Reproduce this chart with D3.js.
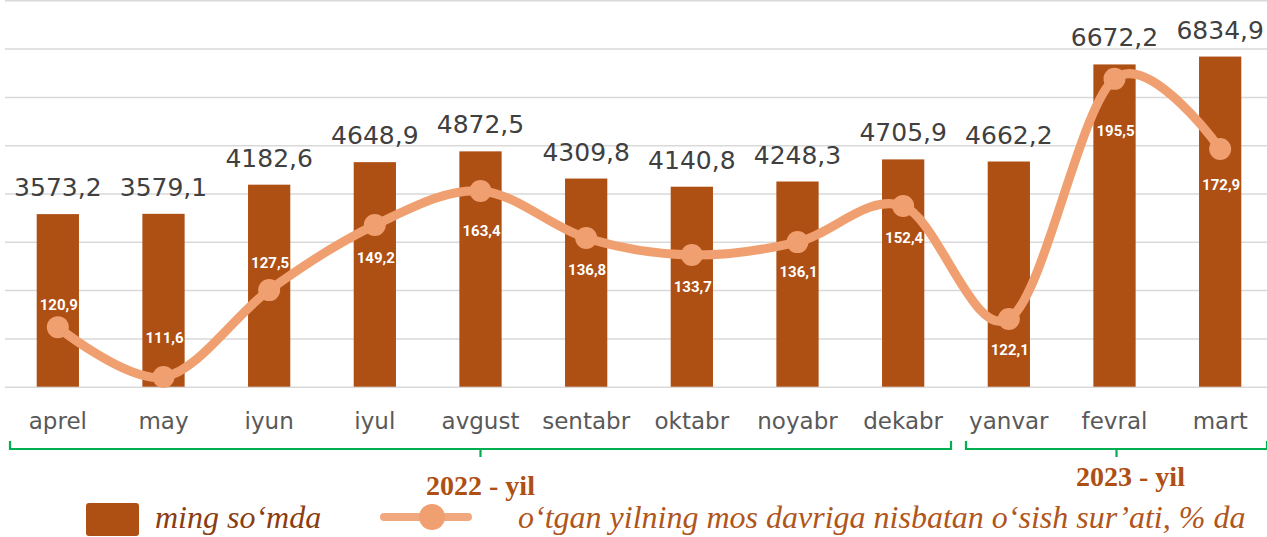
<!DOCTYPE html>
<html>
<head>
<meta charset="utf-8">
<script src="https://cdn.jsdelivr.net/npm/d3@7"></script>
<style>
    body { margin: 0; background: #fff; }
    svg { display: block; }
</style>
</head>
<body>
<div id="chart-area"></div>
<script>
// data
var months = ["aprel", "may", "iyun", "iyul", "avgust", "sentabr", "oktabr", "noyabr", "dekabr", "yanvar", "fevral", "mart"];
var amounts = [3573.2, 3579.1, 4182.6, 4648.9, 4872.5, 4309.8, 4140.8, 4248.3, 4705.9, 4662.2, 6672.2, 6834.9];
// growth rate as printed on the labels
var rateLabels = [120.9, 111.6, 127.5, 149.2, 163.4, 136.8, 133.7, 136.1, 152.4, 122.1, 195.5, 172.9];
// growth rate where the line is actually drawn (secondary axis 100..220)
var ratePlotted = [118.5, 103.0, 130.0, 150.2, 160.8, 146.2, 140.9, 144.9, 156.1, 121.0, 195.6, 173.8];
var amountTicks = [0, 1000, 2000, 3000, 4000, 5000, 6000, 7000, 8000];
var years = [
    { label: "2022 - yil", from: "aprel", to: "dekabr" },
    { label: "2023 - yil", from: "yanvar", to: "mart" }
];
var legendBar = "ming so\u2018mda";
var legendLine = "o\u2018tgan yilning mos davriga nisbatan o\u2018sish sur\u2019ati, % da";

var width = 1267, height = 537;
var barColor = "#ae4f13", lineColor = "#f0a070", green = "#00b050";

var svg = d3.select("#chart-area")
    .append("svg")
    .attr("width", width)
    .attr("height", height);

// Scales
var x = d3.scaleBand().domain(months).range([5, 1273]).padding(0);
var y = d3.scaleLinear().domain([0, 8000]).range([386.7, 0.3]);
var y2 = d3.scaleLinear().domain([100, 220]).range([386.7, 0.3]);
var barW = x.bandwidth() * 0.4;
var cx = function(m) { return x(m) + x.bandwidth() / 2; };

// Gridlines
var grid = svg.append("g")
    .attr("transform", "translate(5,0)")
    .call(d3.axisRight(y).tickValues(amountTicks).tickSize(1262).tickFormat(""));
grid.select(".domain").remove();
grid.selectAll("line").attr("stroke", "#d9d9d9").attr("stroke-width", 1.5);

// X-axis
var xAxis = svg.append("g")
    .attr("transform", "translate(0," + y(0) + ")")
    .call(d3.axisBottom(x).tickSize(0));
xAxis.select(".domain").remove();
xAxis.selectAll("text")
    .attr("y", 42)
    .attr("dy", 0)
    .attr("fill", "#595959")
    .attr("font-family", "DejaVu Sans")
    .attr("font-size", "23px");

// Bars
svg.selectAll("rect.bar")
    .data(amounts)
    .enter().append("rect")
    .attr("class", "bar")
    .attr("x", function(d, i) { return cx(months[i]) - barW / 2; })
    .attr("y", function(d) { return y(d); })
    .attr("width", barW)
    .attr("height", function(d) { return y(0) - y(d); })
    .attr("fill", barColor);

svg.selectAll("text.amount")
    .data(amounts)
    .enter().append("text")
    .attr("class", "amount")
    .attr("x", function(d, i) { return cx(months[i]); })
    .attr("y", function(d) { return y(d) - 18; })
    .attr("text-anchor", "middle")
    .attr("font-family", "DejaVu Sans")
    .attr("font-size", "25px")
    .attr("fill", "#404040")
    .text(function(d) { return d3.format(".1f")(d).replace(".", ","); });

// Line
var line = d3.line()
    .x(function(d, i) { return cx(months[i]); })
    .y(function(d) { return y2(d); })
    .curve(d3.curveCatmullRom.alpha(0));

svg.append("path")
    .attr("d", line(ratePlotted))
    .attr("fill", "none")
    .attr("stroke", lineColor)
    .attr("stroke-width", 9)
    .attr("stroke-linecap", "round");

svg.selectAll("circle.rate")
    .data(ratePlotted)
    .enter().append("circle")
    .attr("class", "rate")
    .attr("cx", function(d, i) { return cx(months[i]); })
    .attr("cy", function(d) { return y2(d); })
    .attr("r", 11)
    .attr("fill", lineColor);

// label offsets from the marker (layout only)
var labelDy = [-22, -39, -27, 33, 40, 32, 32, 30, 32, 31, 52, 36];
svg.selectAll("text.rate")
    .data(rateLabels)
    .enter().append("text")
    .attr("class", "rate")
    .attr("x", function(d, i) { return cx(months[i]) + 1; })
    .attr("y", function(d, i) { return y2(ratePlotted[i]) + labelDy[i]; })
    .attr("dy", "0.35em")
    .attr("text-anchor", "middle")
    .attr("font-family", "Roboto")
    .attr("font-weight", "bold")
    .attr("font-size", "15px")
    .attr("fill", "#ffffff")
    .text(function(d) { return d3.format(".1f")(d).replace(".", ","); });

// Year brackets
years.forEach(function(yr, i) {
    var x0 = x(yr.from) + (i == 0 ? 5 : 10),
        x1 = Math.min(x(yr.to) + x.bandwidth() - 5, width),
        mid = (x0 + x1) / 2;
    var p = d3.path();
    p.moveTo(x0, 441); p.lineTo(x0, 449); p.lineTo(x1, 449); p.lineTo(x1, 441);
    p.moveTo(mid, 449); p.lineTo(mid, 457);
    svg.append("path")
        .attr("d", p.toString())
        .attr("fill", "none")
        .attr("stroke", green)
        .attr("stroke-width", 2.2);
    svg.append("text")
        .attr("x", mid + (i == 0 ? 0 : 14))
        .attr("y", i == 0 ? 495 : 486)
        .attr("text-anchor", "middle")
        .attr("font-family", "Liberation Serif")
        .attr("font-weight", "bold")
        .attr("font-size", "28px")
        .attr("fill", barColor)
        .text(yr.label);
});

// Legend
svg.append("rect")
    .attr("x", 86).attr("y", 503)
    .attr("width", 53).attr("height", 33)
    .attr("rx", 3)
    .attr("fill", barColor);
svg.append("text")
    .attr("x", 155).attr("y", 528)
    .attr("font-family", "Liberation Serif")
    .attr("font-style", "italic")
    .attr("font-size", "32px")
    .attr("fill", "#8a3d12")
    .text(legendBar);

svg.append("line")
    .attr("x1", 384).attr("x2", 468)
    .attr("y1", 517).attr("y2", 517)
    .attr("stroke", "#f2a87e")
    .attr("stroke-width", 8)
    .attr("stroke-linecap", "round");
svg.append("circle")
    .attr("cx", 432).attr("cy", 517).attr("r", 13)
    .attr("fill", lineColor);
svg.append("text")
    .attr("x", 518).attr("y", 528)
    .attr("font-family", "Liberation Serif")
    .attr("font-style", "italic")
    .attr("font-size", "32px")
    .attr("fill", "#b0561c")
    .text(legendLine);
</script>
</body>
</html>
